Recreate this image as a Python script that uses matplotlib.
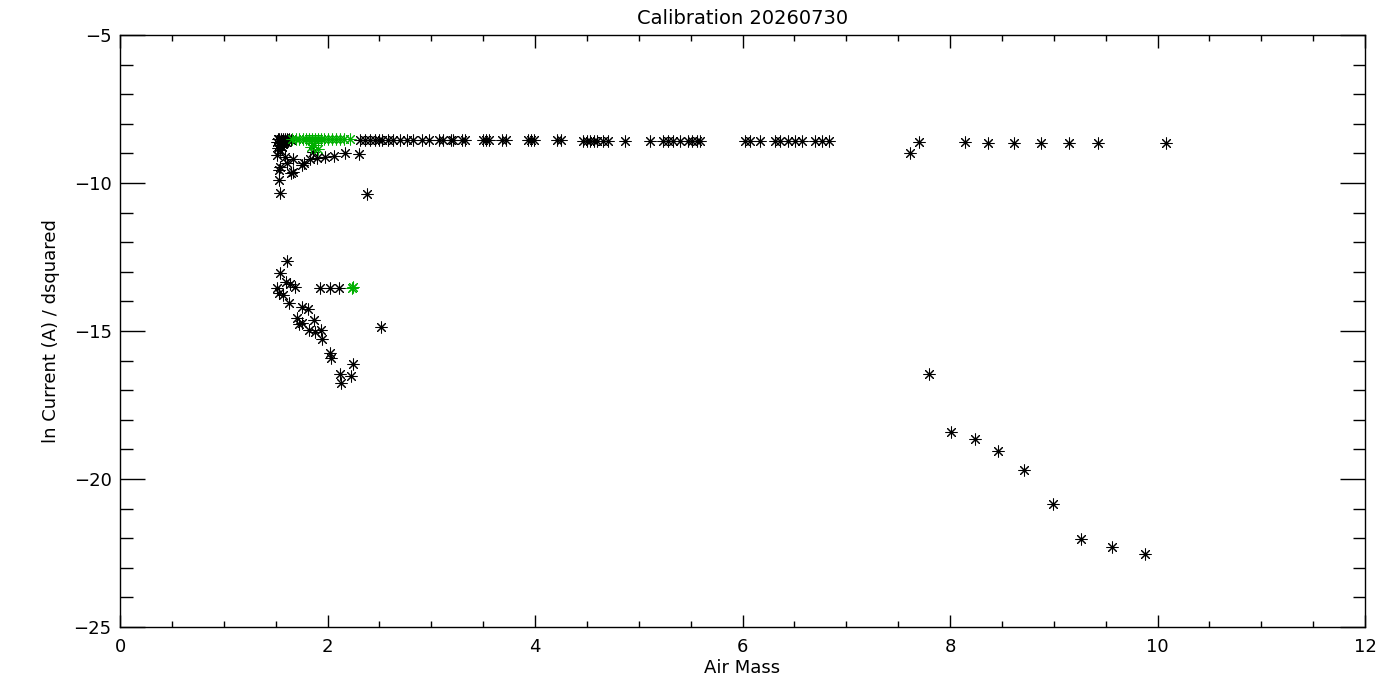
import numpy as np
import matplotlib
matplotlib.use("Agg")
import matplotlib.pyplot as plt
from matplotlib.ticker import MultipleLocator

# ---- data ----
# upper branch, black (near ln I ~ -8.5)
top_left_x = [1.52, 1.53, 1.55, 1.57, 1.59, 1.61, 1.63, 1.54, 1.56, 1.58, 1.60,
              1.53, 1.55, 1.52, 1.57, 1.62, 1.65, 1.54, 1.51, 1.56]
top_left_y = [-8.50, -8.52, -8.50, -8.50, -8.50, -8.50, -8.52, -8.60, -8.58, -8.62, -8.60,
              -8.70, -8.75, -8.82, -8.68, -8.56, -8.55, -8.90, -8.60, -8.80]

top_row_x = [2.31, 2.36, 2.41, 2.46, 2.50, 2.53, 2.58, 2.63, 2.70, 2.77, 2.82, 2.91,
             2.98, 3.07, 3.11, 3.19, 3.21, 3.30, 3.33, 3.50, 3.53, 3.56, 3.68, 3.72,
             3.93, 3.96, 3.99, 4.21, 4.25, 4.46, 4.50, 4.53, 4.57, 4.60, 4.66, 4.70,
             4.87, 5.11, 5.23, 5.28, 5.33, 5.40, 5.47, 5.51, 5.56, 5.59, 6.02, 6.07,
             6.17, 6.31, 6.36, 6.44, 6.51, 6.57, 6.70, 6.77, 6.83,
             7.61, 7.70, 8.14, 8.37, 8.62, 8.88, 9.15, 9.43, 10.08]
top_row_y = [-8.55] * 29 + [-8.57] * 28 + \
            [-8.99, -8.60, -8.60, -8.64, -8.64, -8.64, -8.64, -8.64, -8.64]

# second tier just below the upper branch
tier_x = [1.51, 1.59, 1.67, 1.54, 1.61, 1.53, 1.67, 1.65, 1.75, 1.77, 1.83, 1.90,
          1.98, 2.06, 2.17, 2.30, 1.53, 1.54, 2.38, 1.86]
tier_y = [-9.05, -9.13, -9.20, -9.45, -9.34, -9.56, -9.62, -9.67, -9.39, -9.31,
          -9.20, -9.17, -9.11, -9.09, -8.98, -9.02, -9.90, -10.35, -10.37, -8.94]

# lower cluster around ln I ~ -13 to -17
low_x = [1.61, 1.54, 1.60, 1.64, 1.51, 1.69, 1.53, 1.57, 1.63, 1.93, 2.02, 2.11,
         1.75, 1.81, 1.71, 1.75, 1.73, 1.87, 1.82, 1.88, 1.94, 1.95, 2.02, 2.03,
         2.25, 2.12, 2.23, 2.13, 2.52]
low_y = [-12.62, -13.05, -13.33, -13.41, -13.56, -13.50, -13.73, -13.78, -14.06,
         -13.54, -13.54, -13.54, -14.20, -14.27, -14.57, -14.74, -14.76, -14.63,
         -14.97, -15.02, -14.97, -15.28, -15.75, -15.92, -16.11, -16.45, -16.52,
         -16.77, -14.87]

# falling branch at high air mass
fall_x = [7.80, 8.01, 8.24, 8.46, 8.71, 8.99, 9.26, 9.56, 9.88]
fall_y = [-16.45, -18.41, -18.66, -19.05, -19.71, -20.84, -22.03, -22.31, -22.53]

# green points (selected)
green_x = [1.66, 1.70, 1.73, 1.76, 1.79, 1.82, 1.85, 1.88, 1.91, 1.94, 1.97, 2.00,
           2.04, 2.08, 2.12, 2.16, 2.22, 1.87, 1.91, 1.84, 2.24, 2.25]
green_y = [-8.52] * 17 + [-8.72, -8.85, -8.80, -13.54, -13.50]

black_x = top_left_x + top_row_x + tier_x + low_x + fall_x
black_y = top_left_y + top_row_y + tier_y + low_y + fall_y

# ---- plot ----
plt.rcParams['font.family'] = 'DejaVu Sans'
fig = plt.figure(figsize=(14, 7), dpi=100)
ax = fig.add_axes([120 / 1400, 1 - 627 / 700, 1245 / 1400, 592 / 700])

star = (8, 2, 0)
ax.plot(black_x, black_y, linestyle='none', marker=star, markersize=8.5,
        markeredgewidth=0.75, color='black')
ax.plot(black_x, black_y, linestyle='none', marker='o', markersize=2.2,
        markeredgewidth=0, color='black')
ax.plot(green_x, green_y, linestyle='none', marker=star, markersize=8.5,
        markeredgewidth=0.75, color='#00b000')
ax.plot(green_x, green_y, linestyle='none', marker='o', markersize=2.2,
        markeredgewidth=0, color='#00b000')

ax.set_xlim(0, 12)
ax.set_ylim(-25, -5)
ax.xaxis.set_major_locator(MultipleLocator(2))
ax.xaxis.set_minor_locator(MultipleLocator(0.5))
ax.yaxis.set_major_locator(MultipleLocator(5))
ax.yaxis.set_minor_locator(MultipleLocator(1))

ax.tick_params(axis='both', which='both', direction='in', top=True, right=True,
               width=1.0, colors='black', labelsize=13)
ax.tick_params(axis='x', which='major', length=9, pad=8)
ax.tick_params(axis='x', which='minor', length=4.5)
ax.tick_params(axis='y', which='major', length=18, pad=6)
ax.tick_params(axis='y', which='minor', length=9)
for s in ax.spines.values():
    s.set_linewidth(1.0)

ax.set_title('Calibration 20260730', fontsize=14, pad=8)
ax.set_xlabel('Air Mass', fontsize=13, labelpad=2)
ax.set_ylabel('ln Current (A) / dsquared', fontsize=13, labelpad=10)

# proper minus sign like the reference
ax.yaxis.set_major_formatter(plt.FuncFormatter(lambda v, p: '\u2212%d' % abs(v) if v < 0 else '%d' % v))

fig.savefig('out.png', dpi=100)
